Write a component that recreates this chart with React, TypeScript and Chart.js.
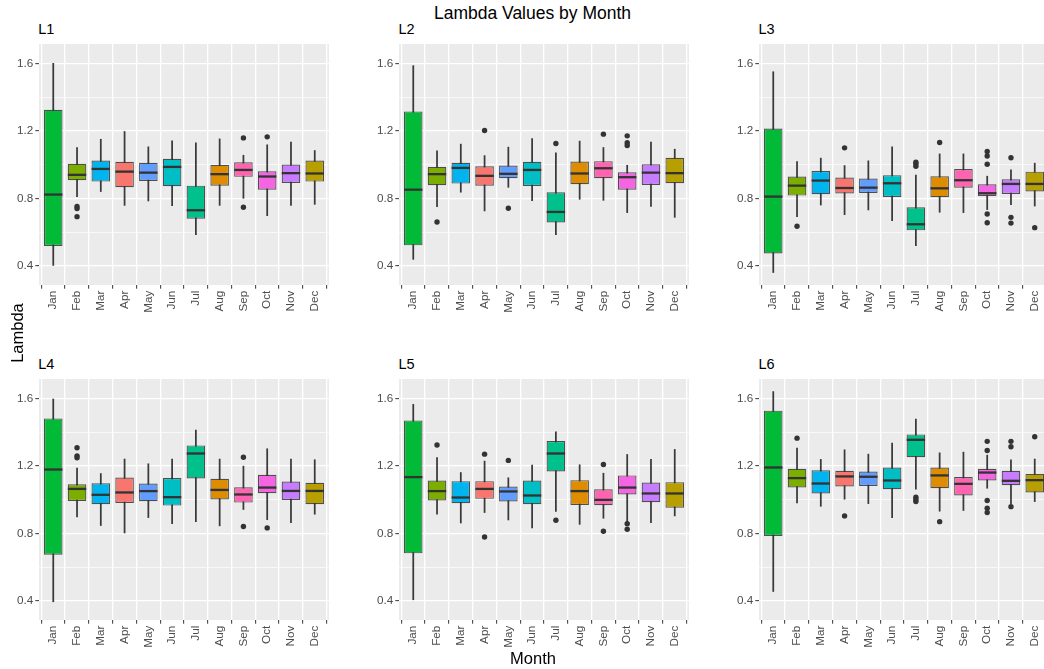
import React, { useEffect, useRef } from 'react';
import { Chart, registerables } from 'chart.js';

Chart.register(...registerables);

// ---------- data ----------
const MONTHS = ['Jan', 'Feb', 'Mar', 'Apr', 'May', 'Jun', 'Jul', 'Aug', 'Sep', 'Oct', 'Nov', 'Dec'];
const MONTH_COLORS = ['#00BA38', '#7CAE00', '#00B4F0', '#F8766D', '#619CFF', '#00BFC4', '#00C08B', '#DE8C00', '#FF64B0', '#F564E3', '#C77CFF', '#B79F00'];
const PANEL_NAMES = ['L1', 'L2', 'L3', 'L4', 'L5', 'L6'];
const Y_TICKS = [0.4, 0.6, 0.8, 1.0, 1.2, 1.4, 1.6];
const Y_MIN = 0.286;
const Y_MAX = 1.7145;

// lower whisker end, per panel (L1..L6), per month
const WHISKER_LOW = [
  [0.402, 0.810, 0.840, 0.758, 0.784, 0.756, 0.584, 0.758, 0.800, 0.697, 0.758, 0.764],
  [0.438, 0.750, 0.836, 0.725, 0.865, 0.786, 0.584, 0.794, 0.788, 0.715, 0.752, 0.687],
  [0.360, 0.691, 0.760, 0.703, 0.731, 0.667, 0.519, 0.717, 0.715, 0.733, 0.762, 0.754],
  [0.394, 0.897, 0.846, 0.802, 0.893, 0.857, 0.869, 0.844, 0.941, 0.881, 0.863, 0.913],
  [0.406, 0.913, 0.861, 0.923, 0.879, 0.832, 0.929, 0.853, 0.889, 0.869, 0.863, 0.903],
  [0.455, 0.980, 0.960, 1.002, 0.976, 0.893, 1.061, 0.931, 0.935, 1.067, 0.975, 0.988],
];
const Q1 = [
  [0.517, 0.907, 0.899, 0.865, 0.903, 0.871, 0.679, 0.875, 0.927, 0.851, 0.891, 0.899],
  [0.521, 0.877, 0.887, 0.875, 0.919, 0.873, 0.657, 0.883, 0.919, 0.851, 0.879, 0.889],
  [0.473, 0.816, 0.824, 0.828, 0.832, 0.808, 0.610, 0.806, 0.863, 0.814, 0.826, 0.840],
  [0.673, 0.992, 0.972, 0.980, 0.990, 0.964, 1.125, 1.000, 0.982, 1.038, 0.998, 0.972],
  [0.681, 0.994, 0.978, 1.004, 0.988, 0.972, 1.166, 0.968, 0.966, 1.030, 0.984, 0.952],
  [0.784, 1.071, 1.036, 1.077, 1.081, 1.061, 1.251, 1.067, 1.024, 1.113, 1.085, 1.042],
];
const MEDIAN = [
  [0.822, 0.939, 0.974, 0.958, 0.952, 0.986, 0.729, 0.943, 0.968, 0.929, 0.949, 0.947],
  [0.851, 0.943, 0.980, 0.933, 0.945, 0.968, 0.719, 0.947, 0.978, 0.925, 0.952, 0.949],
  [0.810, 0.875, 0.905, 0.861, 0.863, 0.889, 0.646, 0.859, 0.907, 0.830, 0.885, 0.885],
  [1.178, 1.063, 1.028, 1.042, 1.050, 1.014, 1.273, 1.057, 1.030, 1.071, 1.051, 1.051],
  [1.133, 1.050, 1.012, 1.063, 1.048, 1.024, 1.273, 1.050, 0.998, 1.071, 1.036, 1.036],
  [1.190, 1.127, 1.095, 1.137, 1.135, 1.113, 1.354, 1.143, 1.093, 1.160, 1.111, 1.115],
];
const Q3 = [
  [1.325, 1.004, 1.024, 1.016, 1.010, 1.034, 0.875, 0.998, 1.014, 0.960, 1.000, 1.024],
  [1.315, 0.986, 1.010, 0.990, 0.994, 1.016, 0.836, 1.018, 1.020, 0.954, 1.002, 1.040],
  [1.214, 0.929, 0.962, 0.923, 0.917, 0.937, 0.747, 0.931, 0.974, 0.883, 0.913, 0.958],
  [1.481, 1.091, 1.097, 1.131, 1.095, 1.127, 1.321, 1.123, 1.073, 1.147, 1.107, 1.099],
  [1.469, 1.113, 1.109, 1.109, 1.077, 1.113, 1.347, 1.115, 1.061, 1.143, 1.101, 1.103],
  [1.527, 1.182, 1.174, 1.170, 1.166, 1.190, 1.386, 1.190, 1.133, 1.182, 1.170, 1.152],
];
const WHISKER_HIGH = [
  [1.600, 1.101, 1.150, 1.196, 1.105, 1.141, 1.129, 1.152, 1.055, 1.117, 1.133, 1.083],
  [1.586, 1.081, 1.121, 1.053, 1.103, 1.154, 1.069, 1.139, 1.101, 0.996, 1.133, 1.091],
  [1.550, 1.018, 1.038, 0.994, 1.022, 1.105, 0.937, 1.063, 1.063, 0.931, 0.968, 1.008],
  [1.596, 1.186, 1.154, 1.240, 1.212, 1.240, 1.412, 1.240, 1.198, 1.301, 1.240, 1.236],
  [1.564, 1.248, 1.160, 1.228, 1.129, 1.204, 1.402, 1.206, 1.156, 1.267, 1.238, 1.297],
  [1.640, 1.305, 1.238, 1.295, 1.269, 1.335, 1.477, 1.277, 1.281, 1.263, 1.236, 1.240],
];
// outliers: [month index, value]
const OUTLIERS_L1 = [[1, 0.752], [1, 0.739], [1, 0.691], [8, 1.158], [8, 0.747], [9, 1.164]];
const OUTLIERS_L2 = [[1, 0.659], [3, 1.202], [4, 0.741], [6, 1.125], [8, 1.180], [9, 1.170], [9, 1.129], [9, 1.113]];
const OUTLIERS_L3 = [[1, 0.634], [3, 1.099], [6, 1.014], [6, 1.004], [6, 0.990], [7, 1.131], [9, 1.077], [9, 1.051], [9, 1.002], [9, 0.707], [9, 0.655], [10, 1.040], [10, 0.687], [10, 0.653], [11, 0.626]];
const OUTLIERS_L4 = [[1, 1.307], [1, 1.259], [1, 1.248], [8, 1.251], [8, 0.840], [9, 0.832]];
const OUTLIERS_L5 = [[1, 1.323], [3, 1.269], [3, 0.778], [4, 1.232], [6, 0.877], [8, 1.208], [8, 0.812], [9, 0.857], [9, 0.824]];
const OUTLIERS_L6 = [[1, 1.364], [3, 0.903], [6, 1.014], [6, 1.000], [6, 0.988], [7, 0.869], [9, 1.345], [9, 1.291], [9, 0.994], [9, 0.949], [9, 0.923], [10, 1.345], [10, 1.313], [10, 0.958], [11, 1.372]];
const OUTLIERS = [OUTLIERS_L1, OUTLIERS_L2, OUTLIERS_L3, OUTLIERS_L4, OUTLIERS_L5, OUTLIERS_L6];

// ---------- layout ----------
const FONT = '"Liberation Sans", Arial, Helvetica, sans-serif';
const PANEL_W = 290;
const PANEL_H = 241;
const Y_AXIS_W = 40;
const X_AXIS_H = 36;
const COL_LEFT = [39, 399, 759];
const ROW_TOP = [44, 379];
const TITLE_BASELINE = [34.3, 369];
const TITLE_LEFT = [38.3, 398.5, 758.5];

const panelBg = {
  id: 'panelBg',
  beforeDraw(chart: any) {
    const { ctx, chartArea } = chart;
    if (!chartArea) return;
    ctx.save();
    ctx.fillStyle = '#EBEBEB';
    ctx.fillRect(chartArea.left, chartArea.top, chartArea.right - chartArea.left, chartArea.bottom - chartArea.top);
    ctx.restore();
  },
};

function buildConfig(p: number): any {
  const tickFont = { family: FONT, size: 11.7 };
  return {
    type: 'bar',
    data: {
      datasets: [
        {
          type: 'scatter',
          label: 'median',
          data: MONTHS.map((_, i) => ({ x: i, y: MEDIAN[p][i] })),
          pointStyle: 'line',
          pointRadius: 9.2,
          pointHoverRadius: 9.2,
          pointBorderWidth: 2.3,
          pointBorderColor: '#333333',
          pointBackgroundColor: '#333333',
          showLine: false,
          order: 0,
        },
        {
          type: 'scatter',
          label: 'outliers',
          data: OUTLIERS[p].map(([m, v]) => ({ x: m, y: v })),
          pointStyle: 'circle',
          pointRadius: 2.7,
          pointHoverRadius: 2.7,
          pointBorderWidth: 0,
          pointBackgroundColor: '#333333',
          pointBorderColor: '#333333',
          showLine: false,
          order: 1,
        },
        {
          type: 'bar',
          label: 'box',
          data: MONTHS.map((_, i) => ({ x: i, y: [Q1[p][i], Q3[p][i]] })),
          backgroundColor: MONTH_COLORS,
          borderColor: 'rgba(51,51,51,0.85)',
          borderWidth: 1.2,
          borderSkipped: false,
          grouped: false,
          categoryPercentage: 1,
          barPercentage: 0.78,
          order: 2,
        },
        {
          type: 'bar',
          label: 'whisker',
          data: MONTHS.map((_, i) => ({ x: i, y: [WHISKER_LOW[p][i], WHISKER_HIGH[p][i]] })),
          backgroundColor: '#3a3a3a',
          borderWidth: 0,
          barThickness: 1.1,
          grouped: false,
          order: 3,
        },
      ],
    },
    options: {
      responsive: false,
      animation: false,
      events: [],
      devicePixelRatio: 1,
      layout: { padding: 0, autoPadding: false },
      plugins: {
        legend: { display: false },
        tooltip: { enabled: false },
        title: { display: false },
      },
      scales: {
        x: {
          type: 'linear',
          min: -0.6,
          max: 11.6,
          offset: false,
          afterBuildTicks: (s: any) => {
            s.ticks = MONTHS.map((_, i) => ({ value: i }));
          },
          afterFit: (s: any) => {
            s.height = X_AXIS_H;
            s.paddingLeft = 0;
            s.paddingRight = 0;
          },
          border: { display: false },
          grid: {
            color: '#FFFFFF',
            lineWidth: 1.3,
            tickColor: '#333333',
            tickLength: 3.7,
            tickWidth: 1,
          },
          ticks: {
            autoSkip: false,
            maxRotation: 90,
            minRotation: 90,
            padding: 2,
            color: '#4D4D4D',
            font: tickFont,
            callback: (v: any) => MONTHS[Math.round(Number(v))] ?? '',
          },
        },
        y: {
          type: 'linear',
          min: Y_MIN,
          max: Y_MAX,
          afterBuildTicks: (s: any) => {
            s.ticks = Y_TICKS.map((v) => ({ value: v }));
          },
          afterFit: (s: any) => {
            s.width = Y_AXIS_W;
            s.paddingTop = 0;
            s.paddingBottom = 0;
          },
          border: { display: false },
          grid: {
            color: '#FFFFFF',
            lineWidth: (c: any) => (c.index % 2 === 0 ? 1.3 : 0.65),
            tickColor: (c: any) => (c.index % 2 === 0 ? '#333333' : 'rgba(0,0,0,0)'),
            tickLength: 3.7,
            tickWidth: 1,
          },
          ticks: {
            padding: 2,
            color: '#4D4D4D',
            font: tickFont,
            callback: (v: any, i: number) => (i % 2 === 0 ? Number(v).toFixed(1) : ''),
          },
        },
      },
    },
    plugins: [panelBg],
  };
}

function Panel({ p }: { p: number }) {
  const ref = useRef<HTMLCanvasElement>(null);
  const col = p % 3;
  const row = Math.floor(p / 3);
  useEffect(() => {
    if (!ref.current) return;
    const chart = new Chart(ref.current, buildConfig(p));
    return () => chart.destroy();
  }, [p]);
  const w = PANEL_W + Y_AXIS_W;
  const h = PANEL_H + X_AXIS_H;
  const titleSize = 14.5;
  return (
    <>
      <canvas
        ref={ref}
        width={w}
        height={h}
        style={{ position: 'absolute', left: COL_LEFT[col] - Y_AXIS_W, top: ROW_TOP[row], width: w, height: h }}
      />
      <div
        style={{
          position: 'absolute',
          left: TITLE_LEFT[col],
          top: TITLE_BASELINE[row] - 12.3,
          fontFamily: FONT,
          fontSize: titleSize,
          lineHeight: 1,
          color: '#000',
          whiteSpace: 'nowrap',
        }}
      >
        {PANEL_NAMES[p]}
      </div>
    </>
  );
}

export default function App() {
  return (
    <div
      style={{
        position: 'absolute',
        left: 0,
        top: 0,
        width: 1044,
        height: 669,
        overflow: 'hidden',
        background: '#FFFFFF',
        fontFamily: FONT,
      }}
    >
      <div
        style={{
          position: 'absolute',
          left: 532.5,
          top: 4.5,
          transform: 'translateX(-50%)',
          fontSize: 17.5,
          lineHeight: 1,
          color: '#000',
          whiteSpace: 'nowrap',
        }}
      >
        Lambda Values by Month
      </div>
      {PANEL_NAMES.map((_, p) => (
        <Panel key={p} p={p} />
      ))}
      <div
        style={{
          position: 'absolute',
          left: 533,
          top: 650.3,
          transform: 'translateX(-50%)',
          fontSize: 16.5,
          lineHeight: 1,
          color: '#000',
          whiteSpace: 'nowrap',
        }}
      >
        Month
      </div>
      <div
        style={{
          position: 'absolute',
          left: 17 - 50,
          top: 333 - 10,
          width: 100,
          height: 20,
          lineHeight: '20px',
          textAlign: 'center',
          fontSize: 16.5,
          color: '#000',
          whiteSpace: 'nowrap',
          transform: 'rotate(-90deg)',
        }}
      >
        Lambda
      </div>
    </div>
  );
}
